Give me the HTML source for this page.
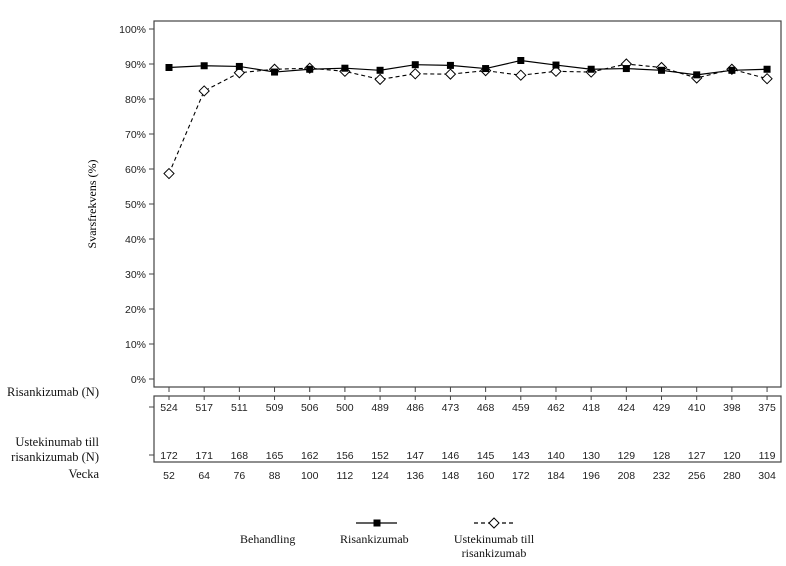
<!DOCTYPE html><html><head><style>body{margin:0;background:#fff}svg{display:block}</style></head><body>
<svg width="786" height="566" xmlns="http://www.w3.org/2000/svg">
<rect x="154" y="21" width="627" height="366" fill="none" stroke="#444" stroke-width="1.2"/>
<rect x="154" y="396" width="627" height="66" fill="none" stroke="#444" stroke-width="1.2"/>
<g font-family="Liberation Sans, sans-serif" font-size="10.5" fill="#222" text-anchor="end" id="yt"></g>
<g id="g"></g>
<text transform="translate(96,204) rotate(-90)" font-family="Liberation Serif, serif" font-size="12" text-anchor="middle">Svarsfrekvens (%)</text>
<g font-family="Liberation Serif, serif" font-size="12.5" fill="#111" text-anchor="end">
<text x="99" y="396">Risankizumab (N)</text>
<text x="99" y="446">Ustekinumab till</text>
<text x="99" y="461">risankizumab (N)</text>
<text x="99" y="478">Vecka</text>
</g>
<g font-family="Liberation Serif, serif" font-size="12" fill="#111">
<text x="240" y="543">Behandling</text>
<text x="340" y="543">Risankizumab</text>
<text x="494" y="543" text-anchor="middle">Ustekinumab till</text>
<text x="494" y="557" text-anchor="middle">risankizumab</text>
</g>
<line x1="356" y1="523" x2="397" y2="523" stroke="#000" stroke-width="1.2"/>
<rect x="373.5" y="519.5" width="7" height="7" fill="#000"/>
<line x1="474" y1="523" x2="514" y2="523" stroke="#000" stroke-width="1.2" stroke-dasharray="4,3"/>
<polygon points="494,518 499,523 494,528 489,523" fill="#fff" stroke="#000"/>
<script>
var ns="http://www.w3.org/2000/svg",g=document.getElementById('g'),yt=document.getElementById('yt');
function el(t,a,p,tx){var e=document.createElementNS(ns,t);for(var k in a)e.setAttribute(k,a[k]);if(tx!=null)e.textContent=tx;(p||g).appendChild(e);return e;}
function Y(v){return 379-3.5*v;}
for(var i=0;i<=10;i++){var y=Y(i*10);el('text',{x:146,y:y+4},yt,(i*10)+'%');el('line',{x1:149,x2:154,y1:y,y2:y,stroke:'#444'});}
var wk=[52,64,76,88,100,112,124,136,148,160,172,184,196,208,232,256,280,304];
var r=[89,89.5,89.3,87.7,88.5,88.8,88.2,89.8,89.6,88.7,91,89.7,88.5,88.7,88.2,86.9,88.2,88.5];
var u=[58.7,82.3,87.5,88.5,88.8,87.9,85.6,87.2,87.1,88.1,86.8,87.9,87.7,90,89,86,88.5,85.8];
var rn=[524,517,511,509,506,500,489,486,473,468,459,462,418,424,429,410,398,375];
var un=[172,171,168,165,162,156,152,147,146,145,143,140,130,129,128,127,120,119];
function X(i){return 169+i*35.18;}
var pr='',pu='';
for(var i=0;i<18;i++){var x=X(i);
el('line',{x1:x,x2:x,y1:387,y2:392,stroke:'#444'});el('line',{x1:x,x2:x,y1:396,y2:400,stroke:'#444'});
var f={'font-family':'Liberation Sans, sans-serif','font-size':'10.5',fill:'#222','text-anchor':'middle'};
el('text',Object.assign({x:x,y:411},f),g,rn[i]);el('text',Object.assign({x:x,y:459},f),g,un[i]);el('text',Object.assign({x:x,y:479},f),g,wk[i]);
pr+=(i?'L':'M')+x+','+Y(r[i]);pu+=(i?'L':'M')+x+','+Y(u[i]);}
el('line',{x1:149,x2:154,y1:407,y2:407,stroke:'#444'});el('line',{x1:149,x2:154,y1:455,y2:455,stroke:'#444'});
el('path',{d:pu,fill:'none',stroke:'#000','stroke-width':1.1,'stroke-dasharray':'4,3'});
el('path',{d:pr,fill:'none',stroke:'#000','stroke-width':1.2});
for(var i=0;i<18;i++){var x=X(i),y=Y(u[i]);el('polygon',{points:x+','+(y-5)+' '+(x+5)+','+y+' '+x+','+(y+5)+' '+(x-5)+','+y,fill:'#fff',stroke:'#000'});
el('rect',{x:X(i)-3.5,y:Y(r[i])-3.5,width:7,height:7,fill:'#000'});}
</script>
</svg></body></html>
